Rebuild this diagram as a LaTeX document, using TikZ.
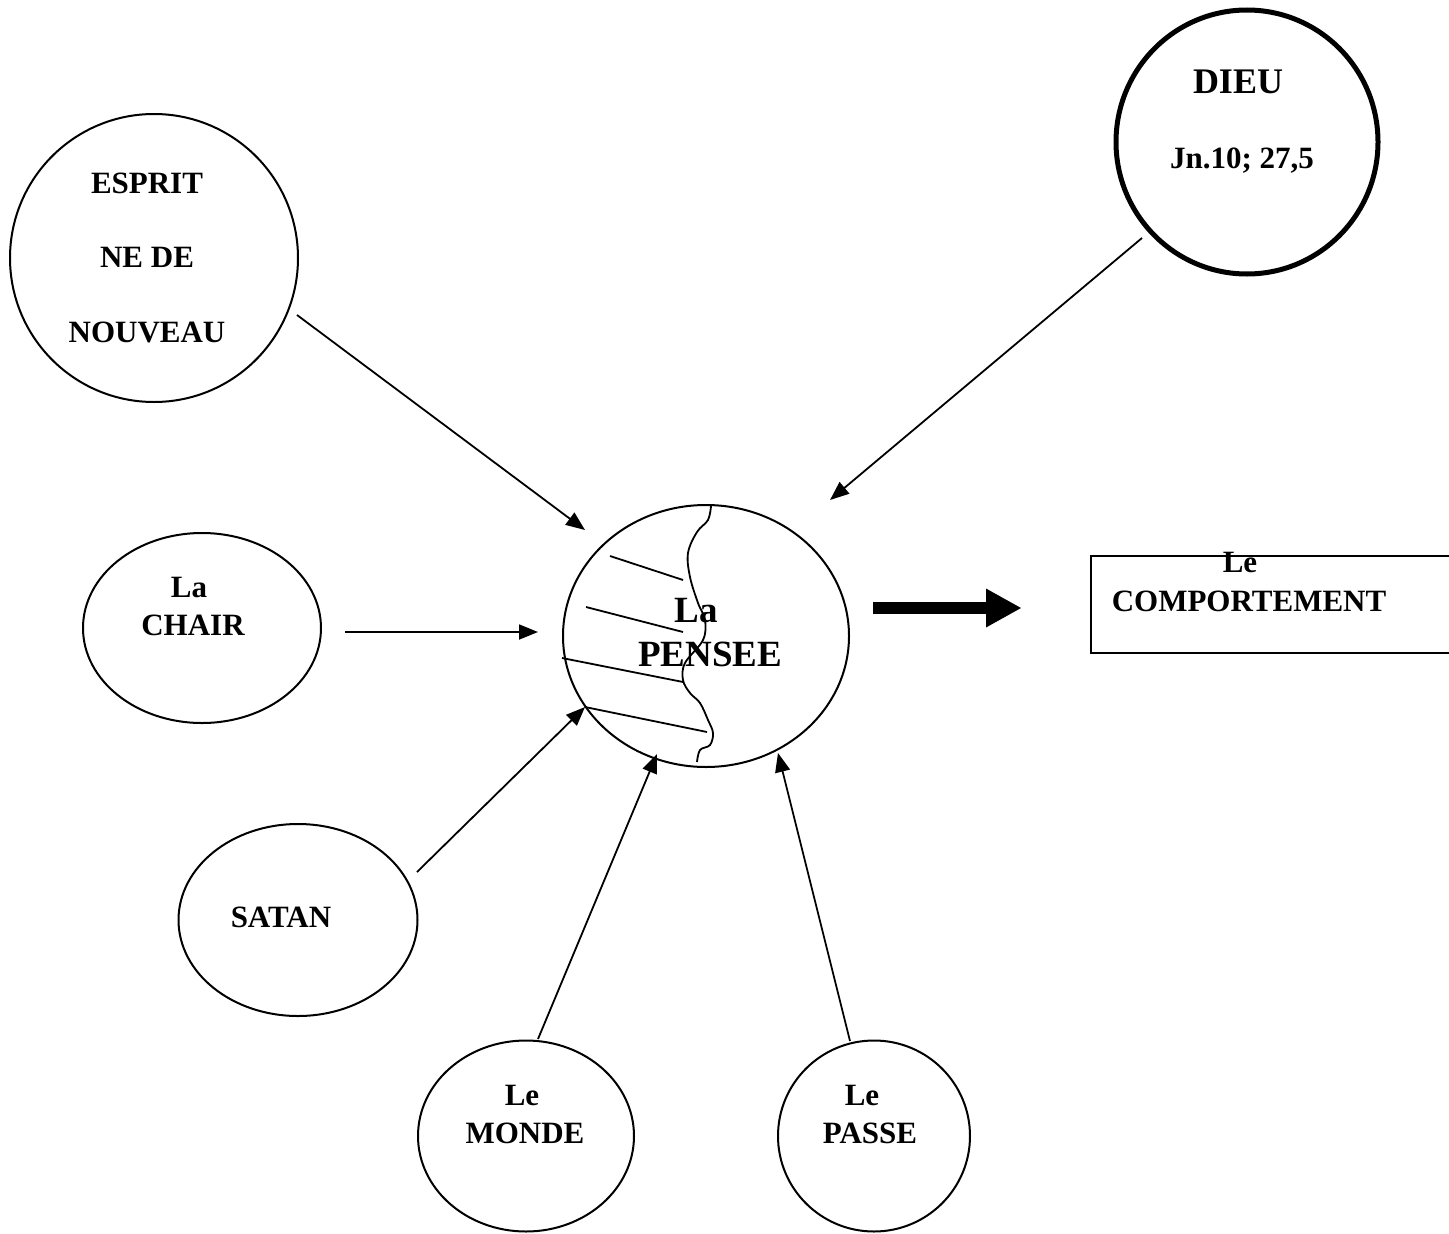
\documentclass[tikz,border=0pt]{standalone}
\usepackage{fontspec}
\setmainfont{Liberation Serif}
\usetikzlibrary{shapes.geometric,arrows.meta}
\begin{document}
\begin{tikzpicture}[x=1pt,y=-1pt,
  oval/.style={draw, ellipse, line width=2pt, inner sep=0pt},
  txt/.style={anchor=base, inner sep=0pt, font=\bfseries\fontsize{31}{37}\selectfont},
  bigtxt/.style={anchor=base, inner sep=0pt, font=\bfseries\fontsize{37}{44}\selectfont},
  arr/.style={line width=1.8pt, -{Triangle[length=19pt,width=15pt]}},
  hatch/.style={line width=1.8pt}]
\useasboundingbox[fill=white] (0,0) rectangle (1449,1234);

% shapes
\node[oval, minimum width=288pt, minimum height=288pt] (esprit) at (154,258) {};
\node[oval, line width=5pt, minimum width=262pt, minimum height=264pt] (dieu) at (1247,142) {};
\node[oval, minimum width=286pt, minimum height=262pt] (pensee) at (706,636) {};
\node[oval, minimum width=238pt, minimum height=190pt] (chair) at (202,628) {};
\node[oval, minimum width=239pt, minimum height=192pt] (satan) at (298,920) {};
\node[oval, minimum width=216pt, minimum height=191pt] (monde) at (526,1136) {};
\node[oval, minimum width=192pt, minimum height=191pt] (passe) at (874,1136) {};
\node[draw, rectangle, line width=2pt, inner sep=0pt, minimum width=369pt, minimum height=97pt] (box) at (1275.5,604) {};

% texts
\node[txt] (espritA) at (147,193) {ESPRIT};
\node[txt] (espritB) at (147,267) {NE DE};
\node[txt] (espritC) at (147,342) {NOUVEAU};
\node[bigtxt, font=\bfseries\fontsize{36}{43}\selectfont] (dieuA) at (1238,93) {DIEU};
\node[txt] (dieuB) at (1242,168) {Jn.10; 27,5};
\node[txt] (chairA) at (189,597) {La};
\node[txt] (chairB) at (193,635) {CHAIR};
\node[bigtxt] (penseeA) at (696,622) {La};
\node[bigtxt] (penseeB) at (710,666) {PENSEE};
\node[txt] (satanA) at (281,927) {SATAN};
\node[txt] (mondeA) at (522,1105) {Le};
\node[txt] (mondeB) at (525,1143) {MONDE};
\node[txt] (passeA) at (862,1105) {Le};
\node[txt] (passeB) at (870,1143) {PASSE};
\node[txt] (boxA) at (1240,572) {Le};
\node[txt] (boxB) at (1249,611) {COMPORTEMENT};

% wavy split line and hatching inside PENSEE
\draw[line width=1.8pt] plot[smooth, tension=0.6] coordinates {
  (711,506) (708,520) (697,532) (688,553) (690,577) (698,603) (705,620)
  (703,640) (685,663) (683,680) (690,693) (700,703) (708,720) (713,733)
  (710,745) (700,750) (697,762)};
\draw[hatch] (610,556) -- (683,580);
\draw[hatch] (586,607) -- (683,632);
\draw[hatch] (562,658) -- (683,682);
\draw[hatch] (585,707) -- (707,732);

% connectors
\draw[arr] ([shift={(143,57)}]esprit.center) -- ([shift={(-121,-106)}]pensee.center);
\draw[arr] ([shift={(-105,96)}]dieu.center) -- ([shift={(124,-136)}]pensee.center);
\draw[arr] ([shift={(143,4)}]chair.center) -- ([shift={(-168,-4)}]pensee.center);
\draw[arr] ([shift={(119,-48)}]satan.center) -- ([shift={(-121,71)}]pensee.center);
\draw[arr] ([shift={(12,-97)}]monde.center) -- ([shift={(-49,118)}]pensee.center);
\draw[arr] ([shift={(-24,-95)}]passe.center) -- ([shift={(72,117)}]pensee.center);
\draw[line width=12pt, -{Triangle[length=35pt,width=39pt,line width=0pt]}]
  ([shift={(23,-28)}]pensee.east) -- ([shift={(-69,4)}]box.west);
\end{tikzpicture}
\end{document}
